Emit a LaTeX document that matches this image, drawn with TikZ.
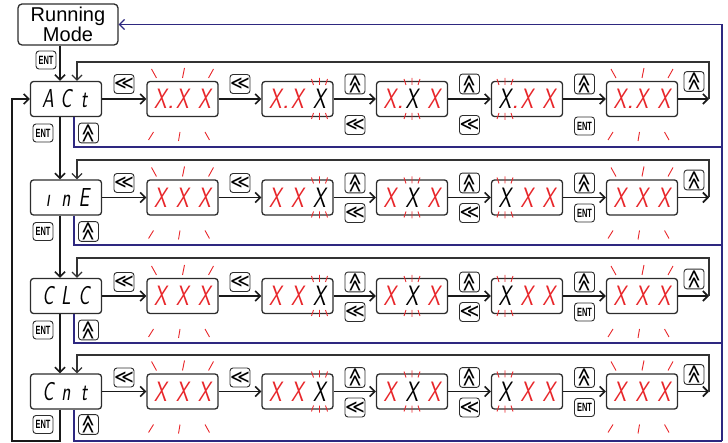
\documentclass[tikz,border=0pt]{standalone}
\usepackage{fontspec}
\usepackage{graphicx}
\newfontfamily\labelfont{Liberation Sans}
\newfontfamily\symfont{DejaVu Sans}
\usetikzlibrary{arrows.meta,calc}

\definecolor{segred}{RGB}{232,38,42}
\definecolor{backblue}{RGB}{46,40,128}
\definecolor{frame}{RGB}{45,45,45}

% display cells
\newcommand{\dg}[1]{\makebox[22pt]{\color{#1}\scalebox{0.72}[1]{X}}}
\newcommand{\dgd}[1]{\makebox[22pt]{\color{#1}\scalebox{0.72}[1]{X}\rlap{\color{segred}.}}}
\newcommand{\seg}[1]{\makebox[18pt]{\scalebox{0.72}[1]{#1}}}
% key faces
\newcommand{\lkey}{≪}
\newcommand{\ukey}{\rotatebox{-90}{≪}}
\newcommand{\ekey}{\scalebox{0.62}[1]{ENT}}
% blinking marks
\newcommand{\blinkall}[1]{%
  \draw[ray, shift={(#1)}]
    (-31,-30) -- (-26,-21) (2,-31) -- (0,-21) (31,-30) -- (26,-21)
    (-34,41) -- (-29,33) (-4,42) -- (-2.5,33) (27,41) -- (22.5,33);}
\newcommand{\blinkone}[2]{%
  \draw[ray, shift={($(#1)+(#2,0)$)}]
    (-8,-20) -- (-6,-14) (0,-21) -- (0,-14) (8,-20) -- (6,-14)
    (-8,20) -- (-6,14) (0,21) -- (0,14) (8,20) -- (6,14);}

\begin{document}
\begin{tikzpicture}[
    x=1pt, y=-1pt,
    >={Straight Barb[length=5pt,width=10pt]},
    display/.style={
        rectangle,
        rounded corners=3pt,
        draw=frame,
        line width=1.3pt,
        minimum width=71pt,
        minimum height=35pt,
        inner sep=0pt,
        fill=white,
        font=\fontsize{28}{28}\selectfont\sffamily\slshape
    },
    label/.style={
        display,
        font=\fontsize{26}{26}\selectfont\sffamily\slshape
    },
    mode/.style={
        rectangle,
        rounded corners=4pt,
        draw=frame,
        line width=1.3pt,
        minimum width=100pt,
        minimum height=41pt,
        inner sep=0pt,
        align=center,
        font=\labelfont\fontsize{20}{17.5}\selectfont
    },
    key/.style={
        rectangle,
        rounded corners=3pt,
        draw=frame,
        line width=0.9pt,
        minimum width=20pt,
        minimum height=19pt,
        inner sep=0pt,
        fill=white,
        font=\symfont\fontsize{19}{19}\selectfont
    },
    entkey/.style={
        key,
        minimum height=18pt,
        font=\labelfont\bfseries\fontsize{12}{12}\selectfont
    },
    edge/.style={
        ->,
        line width=1.6pt,
        draw=black!90
    },
    loopline/.style={
        line width=1.2pt,
        draw=black!80
    },
    back/.style={
        line width=1.3pt,
        draw=backblue
    },
    ray/.style={
        segred,
        line width=0.9pt
    }
]
\useasboundingbox (0,0) rectangle (728,443);

% Running mode
\node[mode] (rm) at (68,24.5) {Running\\Mode};
\node[entkey] (rmk) at (46,60) {\ekey};

% Row 1
\node[label] (act) at (66,99) {\seg{A}\seg{C}\seg{t}};
\node[display] (a1) at (182.5,99) {\dgd{segred}\dg{segred}\dg{segred}};
\node[display] (a2) at (297.5,99) {\dgd{segred}\dg{segred}\dg{black}};
\node[display] (a3) at (412,99) {\dgd{segred}\dg{black}\dg{segred}};
\node[display] (a4) at (527,99) {\dgd{black}\dg{segred}\dg{segred}};
\node[display] (a5) at (642,99) {\dgd{segred}\dg{segred}\dg{segred}};

\node[entkey] (actk) at (43,133) {\ekey};
\node[key] (actu) at (88.5,133) {\ukey};
\node[key] (a0k) at (124,84) {\lkey};
\node[key] (a1k) at (240,84) {\lkey};
\node[key] (a2k) at (355,84) {\ukey};
\node[key] (a3k) at (469.5,84) {\ukey};
\node[key] (a4k) at (584.5,84) {\ukey};
\node[key] (a5k) at (694,81.5) {\ukey};
\node[key] (a2b) at (355,125) {\lkey};
\node[key] (a3b) at (469.5,125) {\lkey};
\node[entkey] (a4b) at (584.5,126) {\ekey};

% Row 2
\node[label] (ine) at (66,197.5) {\seg{\i}\seg{n}\seg{E}};
\node[display] (b1) at (182.5,197.5) {\dg{segred}\dg{segred}\dg{segred}};
\node[display] (b2) at (297.5,197.5) {\dg{segred}\dg{segred}\dg{black}};
\node[display] (b3) at (412,197.5) {\dg{segred}\dg{black}\dg{segred}};
\node[display] (b4) at (527,197.5) {\dg{black}\dg{segred}\dg{segred}};
\node[display] (b5) at (642,197.5) {\dg{segred}\dg{segred}\dg{segred}};

\node[entkey] (inek) at (43,231.5) {\ekey};
\node[key] (ineu) at (88.5,231.5) {\ukey};
\node[key] (b0k) at (124,183) {\lkey};
\node[key] (b1k) at (240,183) {\lkey};
\node[key] (b2k) at (355,183) {\ukey};
\node[key] (b3k) at (469.5,183) {\ukey};
\node[key] (b4k) at (584.5,183) {\ukey};
\node[key] (b5k) at (694,180) {\ukey};
\node[key] (b2b) at (355,213) {\lkey};
\node[key] (b3b) at (469.5,213) {\lkey};
\node[entkey] (b4b) at (584.5,213) {\ekey};

% Row 3
\node[label] (clc) at (66,296) {\seg{C}\seg{L}\seg{C}};
\node[display] (c1) at (182.5,296) {\dg{segred}\dg{segred}\dg{segred}};
\node[display] (c2) at (297.5,296) {\dg{segred}\dg{segred}\dg{black}};
\node[display] (c3) at (412,296) {\dg{segred}\dg{black}\dg{segred}};
\node[display] (c4) at (527,296) {\dg{black}\dg{segred}\dg{segred}};
\node[display] (c5) at (642,296) {\dg{segred}\dg{segred}\dg{segred}};

\node[entkey] (clck) at (43,330) {\ekey};
\node[key] (clcu) at (88.5,330) {\ukey};
\node[key] (c0k) at (124,282) {\lkey};
\node[key] (c1k) at (240,282) {\lkey};
\node[key] (c2k) at (355,282) {\ukey};
\node[key] (c3k) at (469.5,282) {\ukey};
\node[key] (c4k) at (584.5,282) {\ukey};
\node[key] (c5k) at (694,279) {\ukey};
\node[key] (c2b) at (355,312) {\lkey};
\node[key] (c3b) at (469.5,312) {\lkey};
\node[entkey] (c4b) at (584.5,312) {\ekey};

% Row 4
\node[label] (cnt) at (66,391.5) {\seg{C}\seg{n}\seg{t}};
\node[display] (d1) at (182.5,391.5) {\dg{segred}\dg{segred}\dg{segred}};
\node[display] (d2) at (297.5,391.5) {\dg{segred}\dg{segred}\dg{black}};
\node[display] (d3) at (412,391.5) {\dg{segred}\dg{black}\dg{segred}};
\node[display] (d4) at (527,391.5) {\dg{black}\dg{segred}\dg{segred}};
\node[display] (d5) at (642,391.5) {\dg{segred}\dg{segred}\dg{segred}};

\node[entkey] (cntk) at (43,424.5) {\ekey};
\node[key] (cntu) at (88.5,424.5) {\ukey};
\node[key] (d0k) at (124,377.5) {\lkey};
\node[key] (d1k) at (240,377.5) {\lkey};
\node[key] (d2k) at (355,377.5) {\ukey};
\node[key] (d3k) at (469.5,377.5) {\ukey};
\node[key] (d4k) at (584.5,377.5) {\ukey};
\node[key] (d5k) at (694,374.5) {\ukey};
\node[key] (d2b) at (355,407.5) {\lkey};
\node[key] (d3b) at (469.5,407.5) {\lkey};
\node[entkey] (d4b) at (584.5,407.5) {\ekey};

% Blinking
\blinkall{a1} \blinkone{a2}{22} \blinkone{a3}{0} \blinkone{a4}{-22} \blinkall{a5}
\blinkall{b1} \blinkone{b2}{22} \blinkone{b3}{0} \blinkone{b4}{-22} \blinkall{b5}
\blinkall{c1} \blinkone{c2}{22} \blinkone{c3}{0} \blinkone{c4}{-22} \blinkall{c5}
\blinkall{d1} \blinkone{d2}{22} \blinkone{d3}{0} \blinkone{d4}{-22} \blinkall{d5}

% Corner points
\coordinate (ar) at (709,99);
\coordinate (at) at (77,62);
\coordinate (br) at (709,197.5);
\coordinate (bt) at (77,160);
\coordinate (cr) at (709,296);
\coordinate (ct) at (77,258);
\coordinate (dr) at (709,391.5);
\coordinate (dt) at (77,355);
\coordinate (lb) at (12,441);
\coordinate (ab) at (722,147);
\coordinate (bb) at (722,245);
\coordinate (cb) at (722,343);
\coordinate (db) at (722,441);

% Edges
\draw[edge] ([xshift=-8pt]rm.south) -- ([xshift=-6pt]act.north);
\draw[edge] ([xshift=-6pt]act.south) -- ([xshift=-6pt]ine.north);
\draw[edge] ([xshift=-6pt]ine.south) -- ([xshift=-6pt]clc.north);
\draw[edge] ([xshift=-6pt]clc.south) -- ([xshift=-6pt]cnt.north);
\draw[edge] ([xshift=-6pt]cnt.south) |- (lb) |- (act);

\draw[edge] (act) -- (a1);
\draw[edge] (a1) -- (a2);
\draw[edge] (a2) -- (a3);
\draw[edge] (a3) -- (a4);
\draw[edge] (a4) -- (a5);
\draw[edge] (a5) -- (ar);

\draw[edge] (ine) -- (b1);
\draw[edge] (b1) -- (b2);
\draw[edge] (b2) -- (b3);
\draw[edge] (b3) -- (b4);
\draw[edge] (b4) -- (b5);
\draw[edge] (b5) -- (br);

\draw[edge] (clc) -- (c1);
\draw[edge] (c1) -- (c2);
\draw[edge] (c2) -- (c3);
\draw[edge] (c3) -- (c4);
\draw[edge] (c4) -- (c5);
\draw[edge] (c5) -- (cr);

\draw[edge] (cnt) -- (d1);
\draw[edge] (d1) -- (d2);
\draw[edge] (d2) -- (d3);
\draw[edge] (d3) -- (d4);
\draw[edge] (d4) -- (d5);
\draw[edge] (d5) -- (dr);

% Loops back to the label
\draw[loopline,->] (ar) |- (at) -- (at |- act.north);
\draw[loopline,->] (br) |- (bt) -- (bt |- ine.north);
\draw[loopline,->] (cr) |- (ct) -- (ct |- clc.north);
\draw[loopline,->] (dr) |- (dt) -- (dt |- cnt.north);

% Back to running mode
\draw[back] ([xshift=8pt]act.south) |- (ab);
\draw[back] ([xshift=8pt]ine.south) |- (bb);
\draw[back] ([xshift=8pt]clc.south) |- (cb);
\draw[back] ([xshift=8pt]cnt.south) |- (db);
\draw[back,->] (db) |- (rm);

\end{tikzpicture}
\end{document}
